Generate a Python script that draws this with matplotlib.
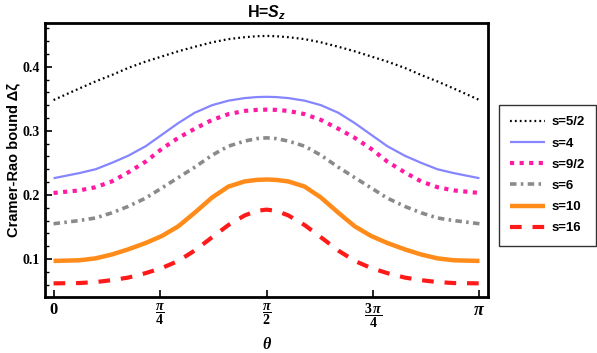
import numpy as np
import matplotlib
matplotlib.use('Agg')
import matplotlib.pyplot as plt
from matplotlib.ticker import MultipleLocator

plt.rcParams['mathtext.fontset'] = 'custom'
plt.rcParams['mathtext.rm'] = 'Liberation Serif:bold'
plt.rcParams['mathtext.it'] = 'Liberation Serif:italic:bold'
plt.rcParams['mathtext.bfit'] = 'Liberation Sans:italic:bold'
plt.rcParams['mathtext.bf'] = 'Liberation Sans:bold'

# theta 取样点（左半边，从图上读出），曲线关于 pi/2 对称
theta_half = [0.0, 0.19, 0.31, 0.43, 0.55, 0.68, 0.80, 0.92, 1.04, 1.17, 1.29, 1.41, 1.50, 1.571]

s52_half = [0.348, 0.366, 0.377, 0.387, 0.398, 0.408, 0.416, 0.424, 0.431, 0.438, 0.443, 0.446, 0.4475, 0.448]
s4_half = [0.226, 0.234, 0.240, 0.250, 0.261, 0.276, 0.294, 0.312, 0.328, 0.340, 0.347, 0.351, 0.3526, 0.353]
s92_half = [0.203, 0.207, 0.212, 0.221, 0.235, 0.252, 0.272, 0.289, 0.303, 0.317, 0.326, 0.331, 0.3326, 0.333]
s6_half = [0.155, 0.160, 0.164, 0.172, 0.182, 0.195, 0.211, 0.227, 0.243, 0.262, 0.276, 0.284, 0.2878, 0.289]
s10_half = [0.097, 0.098, 0.101, 0.107, 0.115, 0.125, 0.136, 0.151, 0.172, 0.196, 0.213, 0.221, 0.2234, 0.224]
s16_half = [0.062, 0.0625, 0.064, 0.067, 0.071, 0.078, 0.086, 0.097, 0.113, 0.134, 0.153, 0.168, 0.1752, 0.177]

labels = ['s=5/2', 's=4', 's=9/2', 's=6', 's=10', 's=16']


def mirror(th, vals):
    """把左半边镜像到右半边"""
    th = np.array(th)
    vals = np.array(vals)
    full_th = np.concatenate([th, np.pi - th[-2::-1]])
    full_v = np.concatenate([vals, vals[-2::-1]])
    return full_th, full_v


series = [s52_half, s4_half, s92_half, s6_half, s10_half, s16_half]
styles = [
    dict(color='black', lw=1.6, ls=(0, (0.8, 1.4))),
    dict(color='#8585ff', lw=1.6, ls='-'),
    dict(color='#ff1aa3', lw=3.0, ls=(0, (1.0, 1.3))),
    dict(color='#8a8a8a', lw=2.6, ls=(0, (1.8, 1.2, 0.7, 1.2))),
    dict(color='#ff8c1a', lw=3.2, ls='-'),
    dict(color='#ff1a1a', lw=3.0, ls=(0, (2.8, 2.6))),
]

fig = plt.figure(figsize=(5.97, 3.53), dpi=100)
ax = fig.add_axes([0.0754, 0.1586, 0.742, 0.776])

for vals, st, lab in zip(series, styles, labels):
    th, v = mirror(theta_half, vals)
    ax.plot(th, v, label=lab, solid_capstyle='butt', dash_capstyle='butt',
            solid_joinstyle='round', **st)

ax.set_xlim(-0.063, np.pi + 0.063)
ax.set_ylim(0.0407, 0.468)

ax.set_xticks([0, np.pi / 4, np.pi / 2, 3 * np.pi / 4, np.pi])
ax.set_xticklabels(['0', r'$\dfrac{\pi}{4}$', r'$\dfrac{\pi}{2}$', r'$\dfrac{3\,\pi}{4}$', r'$\pi$'],
                   va='top')
ax.yaxis.set_major_locator(MultipleLocator(0.1))
ax.yaxis.set_minor_locator(MultipleLocator(0.02))
ax.set_yticks([0.1, 0.2, 0.3, 0.4])
ax.set_yticklabels(['0.1', '0.2', '0.3', '0.4'])

for lab in ax.get_yticklabels() + ax.get_xticklabels():
    lab.set_fontfamily('Liberation Serif')
    lab.set_fontweight('bold')
    lab.set_fontsize(10)
# 0 和 π 比分数标签大一些
xl = ax.get_xticklabels()
xl[0].set_fontsize(12)
xl[-1].set_fontsize(13)

ax.tick_params(which='both', direction='in', top=False, right=False)
ax.tick_params(which='major', length=5, width=1.2, pad=3.5)
ax.tick_params(which='minor', length=3, width=1.0)

for sp in ax.spines.values():
    sp.set_linewidth(2.0)

ax.set_title(r'H=$\mathbfit{S}_\mathbfit{z}$', fontsize=11.5, fontweight='bold', pad=4,
             fontfamily='Liberation Sans')
ax.set_ylabel('Cramer-Rao bound \u0394\u03b6', fontsize=10.5, fontweight='bold',
              fontfamily='Liberation Sans', labelpad=2)
ax.set_xlabel('\u03b8', fontsize=11.5, fontweight='bold', style='italic',
              fontfamily='Liberation Serif', labelpad=5)

leg = ax.legend(loc='upper left', bbox_to_anchor=(499 / 597, 1 - 105 / 353),
                bbox_transform=fig.transFigure, borderaxespad=0,
                frameon=True, fancybox=False, edgecolor='black', handlelength=2.6,
                borderpad=0.85, labelspacing=0.68, handletextpad=0.5,
                prop=dict(family='Liberation Sans', weight='bold', size=9.5))
leg.get_frame().set_linewidth(1.0)

fig.savefig('out.png', dpi=100)
